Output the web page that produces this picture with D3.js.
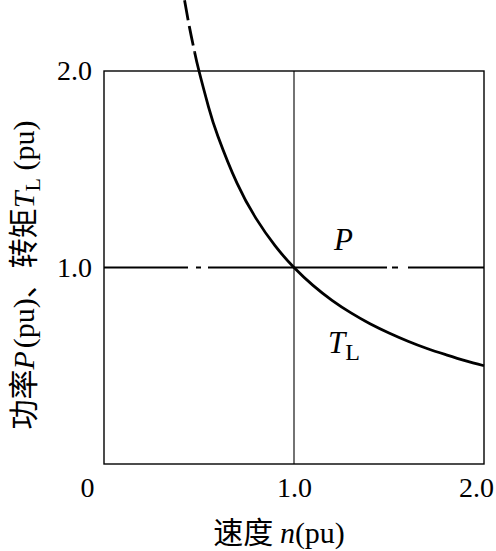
<!DOCTYPE html>
<html>
<head>
<meta charset="utf-8">
<script src="https://cdn.jsdelivr.net/npm/d3@7"></script>
<style>
  body { margin: 0; background: #fff; }
  svg { display: block; }
  text { font-family: "Liberation Serif", "Noto Sans CJK SC", serif; fill: #000; }
</style>
</head>
<body>
<svg id="chart" width="496" height="551"></svg>
<script>
// speed n (pu) and load torque T_L (pu)
var speedN = [0.424, 0.45, 0.477, 0.5, 0.55, 0.6, 0.7, 0.8, 0.9, 1.0, 1.1, 1.2, 1.3, 1.4, 1.5, 1.6, 1.7, 1.8, 1.9, 2.0];
var torqueT = [2.36, 2.222, 2.096, 2.0, 1.818, 1.667, 1.429, 1.25, 1.111, 1.0, 0.909, 0.833, 0.769, 0.714, 0.667, 0.625, 0.588, 0.556, 0.526, 0.5];
// constant power line P = 1.0
var powerN = [0, 2.0];
var powerP = [1.0, 1.0];
var xTicks = [0, 1.0, 2.0];
var yTicks = [1.0, 2.0];
var dashLimit = 0.477; // curve above this speed is solid

var svg = d3.select("#chart");
var x = d3.scaleLinear().domain([0, 2]).range([104, 484]);
var y = d3.scaleLinear().domain([0, 2]).range([464, 71]);

// frame
svg.append("rect")
    .attr("x", x(0)).attr("y", y(2))
    .attr("width", x(2) - x(0)).attr("height", y(0) - y(2))
    .attr("fill", "none").attr("stroke", "#000").attr("stroke-width", 1.4);

// n = 1.0 vertical
svg.append("line")
    .attr("x1", x(1)).attr("x2", x(1))
    .attr("y1", y(0)).attr("y2", y(2))
    .attr("stroke", "#000").attr("stroke-width", 1.1);

// power line, dash-dot
var line = d3.line()
    .x(function (d) { return x(d[0]); })
    .y(function (d) { return y(d[1]); });

svg.append("path")
    .attr("d", line(powerN.map(function (n, i) { return [n, powerP[i]]; })))
    .attr("fill", "none")
    .attr("stroke", "#000")
    .attr("stroke-width", 1.8)
    .attr("stroke-dasharray", "84 8 5 7 179 5 6 10 90");

// torque curve
var curve = d3.line()
    .x(function (d) { return x(d[0]); })
    .y(function (d) { return y(d[1]); })
    .curve(d3.curveNatural);

var pts = speedN.map(function (n, i) { return [n, torqueT[i]]; });
var dashedPts = pts.filter(function (d) { return d[0] <= dashLimit; });
var solidPts = pts.filter(function (d) { return d[0] >= dashLimit; });

svg.append("path")
    .attr("d", curve(dashedPts))
    .attr("fill", "none").attr("stroke", "#000").attr("stroke-width", 2.8)
    .attr("stroke-dasharray", "20 6");
svg.append("path")
    .attr("d", curve(solidPts))
    .attr("fill", "none").attr("stroke", "#000").attr("stroke-width", 2.8);

// axes (labels only)
var xAxis = svg.append("g")
    .attr("transform", "translate(0," + y(0) + ")")
    .call(d3.axisBottom(x).tickValues(xTicks).tickSize(0).tickPadding(13)
        .tickFormat(function (d) { return d === 0 ? "0" : d3.format(".1f")(d); }));
xAxis.select(".domain").remove();
xAxis.selectAll("text")
    .attr("font-size", 28)
    .style("font-family", "Liberation Serif, serif")
    .attr("dx", function (d) { return d === 0 ? -17 : (d === 2 ? -8 : 0); });

var yAxis = svg.append("g")
    .attr("transform", "translate(" + x(0) + ",0)")
    .call(d3.axisLeft(y).tickValues(yTicks).tickSize(0).tickPadding(12)
        .tickFormat(d3.format(".1f")));
yAxis.select(".domain").remove();
yAxis.selectAll("text")
    .attr("font-size", 28)
    .style("font-family", "Liberation Serif, serif");

// curve labels
svg.append("text")
    .attr("x", 334).attr("y", 250)
    .attr("font-size", 31).attr("font-style", "italic")
    .text("P");

var tl = svg.append("text")
    .attr("x", 328).attr("y", 353)
    .attr("font-size", 31);
tl.append("tspan").attr("font-style", "italic").text("T");
tl.append("tspan").attr("font-size", 24).attr("dy", 7).text("L");

// x title
var xt = svg.append("text")
    .attr("x", 279).attr("y", 543)
    .attr("text-anchor", "middle")
    .attr("font-size", 30);
xt.append("tspan").style("font-family", "Noto Sans CJK SC").text("速度 ");
xt.append("tspan").attr("font-style", "italic").text("n");
xt.append("tspan").text("(pu)");

// y title
var yt = svg.append("text")
    .attr("transform", "translate(34,275) rotate(-90)")
    .attr("text-anchor", "middle")
    .attr("font-size", 30);
yt.append("tspan").style("font-family", "Noto Sans CJK SC").text("功率");
yt.append("tspan").attr("font-style", "italic").text("P");
yt.append("tspan").attr("dx", 3).text("(pu)");
yt.append("tspan").style("font-family", "Noto Sans CJK SC").text("、转矩");
yt.append("tspan").attr("font-style", "italic").text("T");
yt.append("tspan").attr("font-size", 22).attr("dy", 6).text("L");
yt.append("tspan").attr("dy", -6).text(" (pu)");
</script>
</body>
</html>
